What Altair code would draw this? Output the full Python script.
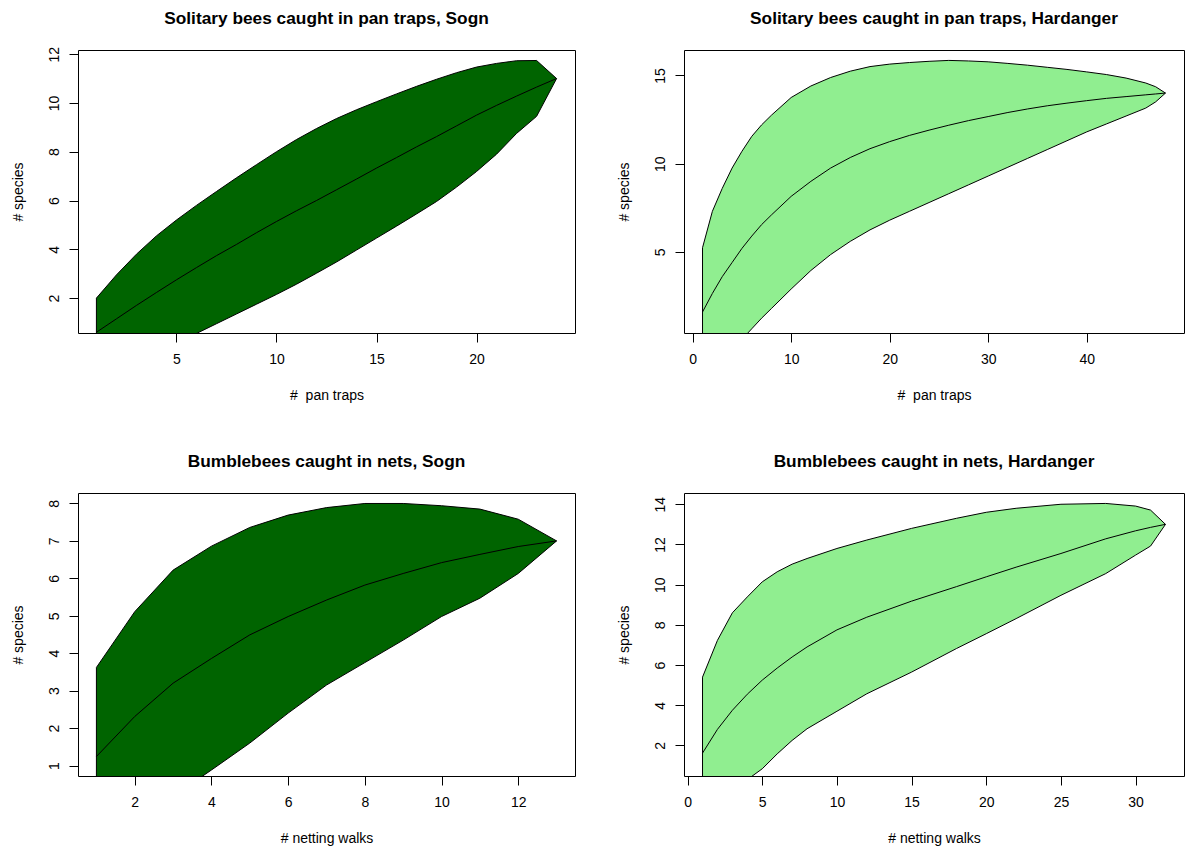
import altair as alt
import pandas as pd

FONT = "Liberation Sans"

# ---- Panel 1: Solitary bees, pan traps, Sogn ----
x1 = list(range(1, 25))
upper1 = [2.0, 2.95, 3.8, 4.55, 5.2, 5.8, 6.37, 6.93, 7.47, 8.0, 8.5, 8.95,
          9.36, 9.72, 10.05, 10.37, 10.68, 10.97, 11.24, 11.47, 11.62, 11.73, 11.74, 11.0]
mean1 = [0.6, 1.15, 1.7, 2.23, 2.75, 3.25, 3.74, 4.2, 4.68, 5.14, 5.58, 6.0,
         6.44, 6.88, 7.33, 7.76, 8.2, 8.62, 9.06, 9.5, 9.9, 10.28, 10.65, 11.0]
lower1 = [-0.8, -0.5, -0.3, -0.1, 0.22, 0.55, 0.95, 1.35, 1.75, 2.15, 2.57, 3.02,
          3.48, 3.97, 4.46, 4.95, 5.45, 5.96, 6.55, 7.19, 7.9, 8.75, 9.45, 11.0]

# ---- Panel 2: Solitary bees, pan traps, Hardanger ----
x2 = [1, 2, 3, 4, 5, 6, 7, 8, 10, 12, 14, 16, 18, 20, 22, 24, 26, 28, 30, 32,
      34, 36, 38, 40, 42, 44, 46, 47, 48]
upper2 = [5.24, 7.3, 8.6, 9.75, 10.7, 11.55, 12.2, 12.75, 13.75, 14.4, 14.88, 15.24,
          15.5, 15.64, 15.73, 15.8, 15.85, 15.82, 15.77, 15.68, 15.58, 15.46, 15.34,
          15.2, 15.05, 14.85, 14.57, 14.36, 14.0]
mean2 = [1.6, 2.65, 3.6, 4.4, 5.2, 5.9, 6.55, 7.1, 8.15, 9.0, 9.75, 10.35, 10.85,
         11.25, 11.6, 11.9, 12.18, 12.44, 12.67, 12.9, 13.1, 13.28, 13.43, 13.57,
         13.7, 13.8, 13.9, 13.95, 14.0]
lower2 = [-1.5, -0.9, -0.6, -0.3, 0.05, 0.65, 1.25, 1.8, 2.9, 3.95, 4.85, 5.6, 6.25,
          6.8, 7.3, 7.8, 8.3, 8.8, 9.3, 9.8, 10.3, 10.8, 11.3, 11.8, 12.25,
          12.7, 13.15, 13.5, 14.0]

# ---- Panel 3: Bumblebees, nets, Sogn ----
x3 = list(range(1, 14))
upper3 = [3.62, 5.11, 6.22, 6.86, 7.36, 7.69, 7.89, 8.0, 8.0, 7.94, 7.85, 7.58, 7.0]
mean3 = [1.24, 2.31, 3.2, 3.86, 4.49, 4.98, 5.42, 5.82, 6.13, 6.42, 6.64, 6.85, 7.0]
lower3 = [-1.1, -0.5, 0.18, 0.88, 1.6, 2.4, 3.15, 3.75, 4.35, 4.98, 5.47, 6.13, 7.0]

# ---- Panel 4: Bumblebees, nets, Hardanger ----
x4 = [1, 2, 3, 4, 5, 6, 7, 8, 10, 12, 15, 18, 20, 22, 25, 28, 30, 31, 32]
upper4 = [5.4, 7.23, 8.6, 9.39, 10.14, 10.64, 11.02, 11.3, 11.8, 12.22, 12.8, 13.3,
          13.6, 13.8, 14.0, 14.04, 13.91, 13.71, 13.0]
mean4 = [1.62, 2.8, 3.75, 4.55, 5.25, 5.85, 6.4, 6.9, 7.75, 8.38, 9.18, 9.9,
         10.39, 10.87, 11.55, 12.28, 12.68, 12.85, 13.0]
lower4 = [-2.2, -1.5, -0.5, 0.3, 0.84, 1.58, 2.25, 2.83, 3.7, 4.57, 5.65, 6.82,
          7.56, 8.31, 9.47, 10.55, 11.47, 11.92, 13.0]

titles = ["Solitary bees caught in pan traps, Sogn",
          "Solitary bees caught in pan traps, Hardanger",
          "Bumblebees caught in nets, Sogn",
          "Bumblebees caught in nets, Hardanger"]
xtitles = ["#\u00a0\u00a0pan traps", "#\u00a0\u00a0pan traps",
           "# netting walks", "# netting walks"]
ytitle = "# species"

xticks1 = [5, 10, 15, 20]
yticks1 = [2, 4, 6, 8, 10, 12]
xticks2 = [0, 10, 20, 30, 40]
yticks2 = [5, 10, 15]
xticks3 = [2, 4, 6, 8, 10, 12]
yticks3 = [1, 2, 3, 4, 5, 6, 7, 8]
xticks4 = [0, 5, 10, 15, 20, 25, 30]
yticks4 = [2, 4, 6, 8, 10, 12, 14]

DARK = "#006400"
LIGHT = "#90EE90"


def panel(title, xs, up, lo, mn, xdom, ydom, xticks, yticks, fill, xtitle, w, h,
          anchor=False):
    df = pd.DataFrame({"x": xs, "upper": up, "lower": lo, "mean": mn})
    xax = alt.Axis(values=xticks, title=xtitle, labelPadding=17, labelBaseline="middle",
                   labelFlush=False, labelOverlap=False, titleY=62, titleX=w / 2,
                   titleBaseline="middle", titleAlign="center")
    yax = alt.Axis(values=yticks, title=ytitle, labelAngle=270, labelAlign="center",
                   labelBaseline="middle", labelPadding=15, labelOverlap=False,
                   labelFlush=False, titleAngle=270, titleX=-60, titleY=h / 2,
                   titleBaseline="middle", titleAlign="center")
    xsc = alt.Scale(domain=xdom, nice=False, zero=False)
    ysc = alt.Scale(domain=ydom, nice=False, zero=False)
    area = alt.Chart(df).mark_area(fill=fill, stroke="black", strokeWidth=1,
                                   clip=True, opacity=1).encode(
        x=alt.X("x:Q", scale=xsc, axis=xax),
        y=alt.Y("upper:Q", scale=ysc, axis=yax),
        y2="lower:Q",
    )
    line = alt.Chart(df).mark_line(color="black", strokeWidth=1, clip=True).encode(
        x=alt.X("x:Q", scale=xsc, axis=xax),
        y=alt.Y("mean:Q", scale=ysc, axis=yax),
    )
    ttl = alt.Chart(pd.DataFrame({"t": [title]})).mark_text(
        font=FONT, fontSize=17.3, fontWeight="bold", align="center",
        baseline="alphabetic", color="black").encode(
        x=alt.value(w / 2), y=alt.value(-26), text="t:N")
    layers = [area, line, ttl]
    if anchor:
        # invisible 1px box that fixes the top-left corner of the whole figure
        layers.append(alt.Chart(pd.DataFrame({"a": [0]})).mark_rect(opacity=0).encode(
            x=alt.value(-77), x2=alt.value(-76), y=alt.value(-49), y2=alt.value(-48)))
    return alt.layer(*layers).properties(width=w, height=h)


WL, WR, H = 497, 500, 283

p1 = panel(titles[0], x1, upper1, lower1, mean1, [0.08, 24.92], [0.57, 12.17],
           xticks1, yticks1, DARK, xtitles[0], WL, H, anchor=True)
p2 = panel(titles[1], x2, upper2, lower2, mean2, [-0.88, 49.88], [0.41, 16.44],
           xticks2, yticks2, LIGHT, xtitles[1], WR, H)
p3 = panel(titles[2], x3, upper3, lower3, mean3, [0.52, 13.48], [0.72, 8.28],
           xticks3, yticks3, DARK, xtitles[2], WL, H)
p4 = panel(titles[3], x4, upper4, lower4, mean4, [-0.24, 33.24], [0.48, 14.56],
           xticks4, yticks4, LIGHT, xtitles[3], WR, H)

chart = alt.concat(p1, p2, p3, p4, columns=2,
                   spacing={"row": 160, "column": 109}, bounds="flush").properties(
    padding={"left": 0, "top": 0, "right": 0, "bottom": 0},
    background="white",
).configure_view(
    stroke="black", strokeWidth=1
).configure_axis(
    grid=False, domain=False, ticks=True, tickColor="black", tickSize=9,
    tickWidth=1, labelFont=FONT, labelFontSize=14, labelColor="black",
    titleFont=FONT, titleFontSize=14, titleFontWeight="normal", titleColor="black",
)

chart.save("out.html", embed_options={"renderer": "svg", "actions": False})
